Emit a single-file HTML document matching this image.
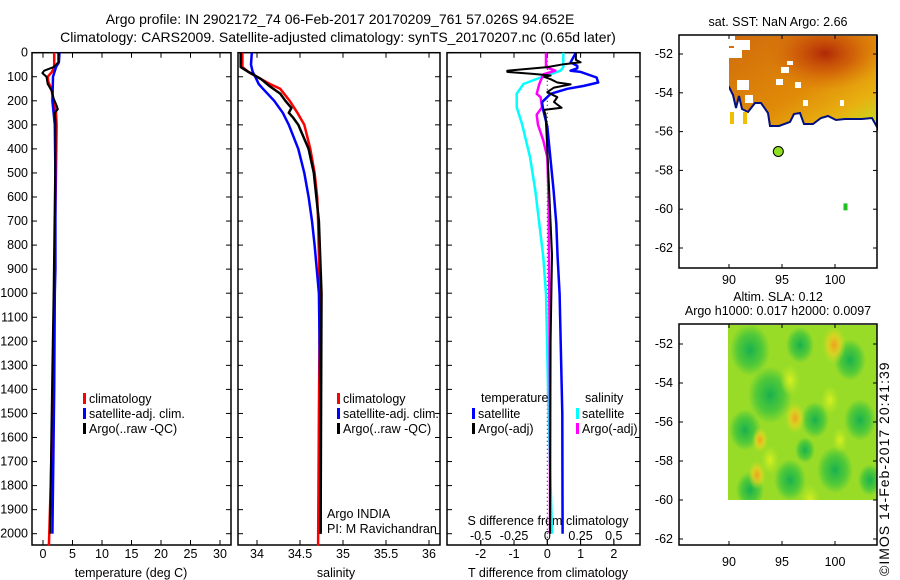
<!DOCTYPE html>
<html><head><meta charset="utf-8">
<style>
body{margin:0;background:#fff}
svg{display:block;font-family:"Liberation Sans",sans-serif;font-size:12.5px}
</style></head>
<body>
<svg id="s" width="900" height="580" viewBox="0 0 900 580" xmlns="http://www.w3.org/2000/svg">
<defs>
<radialGradient id="sstRed" cx="0.65" cy="0.2" r="0.4"><stop offset="0" stop-color="#b02808"/><stop offset="0.5" stop-color="#c84a08" stop-opacity="0.6"/><stop offset="1" stop-color="#d8700c" stop-opacity="0"/></radialGradient>
<linearGradient id="sstBase" x1="0" y1="0" x2="1" y2="1"><stop offset="0" stop-color="#d06a0c"/><stop offset="0.55" stop-color="#e08a08"/><stop offset="0.8" stop-color="#e8b010"/><stop offset="1" stop-color="#c0e020"/></linearGradient>
<radialGradient id="yb" r="0.5"><stop offset="0" stop-color="#d8f020"/><stop offset="1" stop-color="#c0e820" stop-opacity="0"/></radialGradient>
<radialGradient id="ob" r="0.5"><stop offset="0" stop-color="#f0a020"/><stop offset="0.5" stop-color="#f0d020" stop-opacity="0.7"/><stop offset="1" stop-color="#d0e020" stop-opacity="0"/></radialGradient>
<radialGradient id="gb" r="0.5"><stop offset="0" stop-color="#18b050"/><stop offset="0.6" stop-color="#30c040" stop-opacity="0.7"/><stop offset="1" stop-color="#30c040" stop-opacity="0"/></radialGradient>
<clipPath id="slaClip"><rect x="728" y="325" width="149" height="175"/></clipPath>
</defs>
<text x="340" y="24" text-anchor="middle" font-size="14">Argo profile: IN 2902172_74 06-Feb-2017 20170209_761 57.026S 94.652E</text>
<text x="338" y="42" text-anchor="middle" font-size="14">Climatology: CARS2009. Satellite-adjusted climatology: synTS_20170207.nc (0.65d later)</text>
<g id="g"></g>
</svg>
<script>
// ---- data ----
const depthTicks=[0,100,200,300,400,500,600,700,800,900,1000,1100,1200,1300,1400,1500,1600,1700,1800,1900,2000];
const tempTicks=[0,5,10,15,20,25,30];
const salTicks=[34,34.5,35,35.5,36];
const salTickLabels=["34","34.5","35","35.5","36"];
const tdTicks=[-2,-1,0,1,2];
const sdTicks=[-0.5,-0.25,0,0.25,0.5];
const sdTickLabels=["-0.5","-0.25","0","0.25","0.5"];
const latTicks=[-52,-54,-56,-58,-60,-62];
const lonTicks=[90,95,100];

const tClimD=[0,60,80,100,120,150,200,250,300,500,800,1000,1500,1800,2050];
const tClimV=[1.9,1.9,1.5,0.8,0.9,1.4,1.8,2.2,2.3,2.2,2.0,1.9,1.6,1.3,1.0];
const tArgoD=[0,40,60,75,85,100,130,160,190,220,235,250,280,400,800,1000,1300,1600,2000];
const tArgoV=[2.6,2.6,1.8,0.2,-0.1,0.6,0.8,1.5,1.8,2.3,2.5,2.0,2.1,2.1,1.9,1.8,1.6,1.4,1.2];
const tSatD=[0,40,60,100,200,300,500,900,1000,1400,1600,2000];
const tSatV=[2.8,2.7,2.2,1.7,1.6,2.0,2.1,2.1,2.0,1.9,1.8,1.6];

const sClimD=[0,60,80,100,130,150,200,250,300,400,500,600,700,1000,1500,2050];
const sClimV=[33.83,33.83,33.9,34.0,34.15,34.27,34.38,34.47,34.55,34.62,34.67,34.70,34.71,34.73,34.72,34.71];
const sArgoD=[0,60,80,110,140,170,200,230,250,270,300,400,500,700,1000,2000];
const sArgoV=[33.81,33.81,33.9,34.05,34.15,34.27,34.33,34.4,34.37,34.42,34.48,34.6,34.66,34.72,34.75,34.74];
const sSatD=[0,50,80,100,130,150,200,250,300,400,500,600,700,800,1000,1500,2000];
const sSatV=[33.94,33.93,33.95,33.98,34.02,34.07,34.2,34.3,34.37,34.48,34.55,34.6,34.64,34.67,34.72,34.74,34.74];

const tdSatD=[0,40,55,65,75,80,103,124,138,150,171,206,240,307,434,573,711,850,1003,1500,2000];
const tdSatV=[0.86,0.7,0.9,0.9,0.7,1.0,1.48,1.53,1.1,0.6,0.1,-0.16,-0.12,0,0.09,0.19,0.27,0.31,0.37,0.45,0.46];
const tdArgoD=[0,30,40,48,60,75,80,88,95,100,110,124,132,145,164,185,205,229,238,260,400,840,1200,2000];
const tdArgoV=[0.86,0.86,1.0,0.5,0.0,-1.2,-1.2,-0.43,0.1,-0.1,0.1,0.3,0.7,0.2,0.0,0.3,0.2,0.43,-0.1,-0.05,0.0,0.14,0.1,0.08];
const sdSatD=[0,60,75,103,130,171,227,296,365,434,573,711,850,1003,1500,2000];
const sdSatV=[0.12,0.12,0.1,-0.05,-0.18,-0.23,-0.23,-0.19,-0.16,-0.13,-0.09,-0.06,-0.03,-0.01,0.01,0.035];
const sdArgoD=[0,60,75,90,130,171,185,227,258,300,365,434,600,1000,1500,2000];
const sdArgoV=[-0.01,-0.01,0.06,-0.03,-0.06,-0.08,-0.05,-0.04,-0.08,-0.07,-0.03,0.0,0.01,0.015,0.02,0.02];

const argoLon=[94.652], argoLat=[-57.026];

// ---- helpers ----
const NS="http://www.w3.org/2000/svg";
const G=document.getElementById('g');
function mk(tag,attrs,parent){const e=document.createElementNS(NS,tag);for(const k in attrs)e.setAttribute(k,attrs[k]);(parent||G).appendChild(e);return e;}
function txt(x,y,s,anchor,parent){const e=mk('text',{x:x,y:y,'text-anchor':anchor||'middle'},parent);e.textContent=s;return e;}

const TOP=52.7, BOT=545, DPX=0.2405;
const yD=d=>TOP+d*DPX;
const P1={l:32,r:231}, P2={l:238,r:440}, P3={l:447,r:640};
const xT=v=>43+v*5.9;
const xS=v=>257+(v-34)*86;
const xTD=v=>547.3+v*33.3;
const xSD=v=>547.3+v*133;

function panel(p,name){
  const r=mk('rect',{x:p.l,y:TOP,width:p.r-p.l,height:BOT-TOP,fill:'none',stroke:'#000','stroke-width':1.5});
  
  
  depthTicks.forEach(d=>{mk('line',{x1:p.l,x2:p.l+5,y1:yD(d),y2:yD(d),stroke:'#000'});mk('line',{x1:p.r-5,x2:p.r,y1:yD(d),y2:yD(d),stroke:'#000'});});
}
function xticks(vals,fx,labels,name){
  const g=mk('g',{});
  
  
  vals.forEach((v,i)=>{const x=fx(v);mk('line',{x1:x,x2:x,y1:BOT,y2:BOT-5,stroke:'#000'},g);mk('line',{x1:x,x2:x,y1:TOP,y2:TOP+5,stroke:'#000'},g);txt(x,558,labels[i],'middle',g);});
}
function line(D,V,fx,color,w,name){
  const pts=D.map((d,i)=>fx(V[i]).toFixed(1)+','+yD(d).toFixed(1)).join(' ');
  const e=mk('polyline',{points:pts,fill:'none',stroke:color,'stroke-width':w,'stroke-linejoin':'round'});
  
  
}
function legend(x,y,color,label,name){
  const g=mk('g',{});
  
  
  mk('rect',{x:x,y:y-10,width:3,height:11,fill:color},g);
  txt(x+6,y,label,'start',g);
}

const dl=mk('g',{});


depthTicks.forEach(d=>txt(28,yD(d)+4,String(d),'end',dl));

// Panel 1
panel(P1,'temperature-panel');
xticks(tempTicks,xT,tempTicks.map(String),'temperature-x-axis');
const t1=txt(131,577,'temperature (deg C)');

line(tClimD,tClimV,xT,'#f00',2.5,'temp-climatology-line');
line(tSatD,tSatV,xT,'#00f',2.5,'temp-satellite-line');
line(tArgoD,tArgoV,xT,'#000',2,'temp-argo-line');
legend(83,403,'#f00','climatology','legend-climatology-1');
legend(83,418,'#00f','satellite-adj. clim.','legend-satellite-1');
legend(83,433,'#000','Argo(..raw -QC)','legend-argo-1');

// Panel 2
panel(P2,'salinity-panel');
xticks(salTicks,xS,salTickLabels,'salinity-x-axis');
const t2=txt(336,577,'salinity');

line(sClimD,sClimV,xS,'#f00',2.5,'sal-climatology-line');
line(sSatD,sSatV,xS,'#00f',2.5,'sal-satellite-line');
line(sArgoD,sArgoV,xS,'#000',2.5,'sal-argo-line');
legend(337,403,'#f00','climatology','legend-climatology-2');
legend(337,418,'#00f','satellite-adj. clim.','legend-satellite-2');
legend(337,433,'#000','Argo(..raw -QC)','legend-argo-2');
const ai=txt(327,518,'Argo INDIA','start');

const pi=txt(327,533,'PI: M Ravichandran','start');


// Panel 3
panel(P3,'difference-panel');
xticks(tdTicks,xTD,tdTicks.map(String),'t-difference-x-axis');
const sg=mk('g',{});


sdTicks.forEach((v,i)=>{const x=xSD(v);mk('line',{x1:x,x2:x,y1:BOT,y2:BOT-5,stroke:'#000'},sg);txt(x,540,sdTickLabels[i],'middle',sg);});
txt(548,525,'S difference from climatology','middle',sg);
mk('line',{x1:xTD(0),x2:xTD(0),y1:TOP,y2:BOT,stroke:'#000','stroke-dasharray':'1,3'});
const t3=txt(548,577,'T difference from climatology');

line(sdSatD,sdSatV,xSD,'#0ff',2.5,'sdiff-satellite-line');
line(sdArgoD,sdArgoV,xSD,'#f0f',2.5,'sdiff-argo-line');
line(tdSatD,tdSatV,xTD,'#00f',2.5,'tdiff-satellite-line');
line(tdArgoD,tdArgoV,xTD,'#000',2,'tdiff-argo-line');
const lt=txt(481,402,'temperature','start');

const ls=txt(585,402,'salinity','start');

legend(472,418,'#00f','satellite','legend-t-satellite');
legend(472,433,'#000','Argo(-adj)','legend-t-argo');
legend(576,418,'#0ff','satellite','legend-s-satellite');
legend(576,433,'#f0f','Argo(-adj)','legend-s-argo');

// Maps
const M={l:679,r:877};
const xL=lon=>729+(lon-90)*10.6;
function mapAxes(top,bot,yLat,name,xlabY){
  const g=mk('g',{});
  
  
  mk('rect',{x:M.l,y:top,width:M.r-M.l,height:bot-top,fill:'none',stroke:'#000','stroke-width':1.5},g);
  latTicks.forEach(l=>{const y=yLat(l);mk('line',{x1:M.l,x2:M.l+4,y1:y,y2:y,stroke:'#000'},g);mk('line',{x1:M.r-4,x2:M.r,y1:y,y2:y,stroke:'#000'},g);txt(673,y+4,String(l),'end',g);});
  lonTicks.forEach(l=>{const x=xL(l);mk('line',{x1:x,x2:x,y1:bot,y2:bot-4,stroke:'#000'},g);mk('line',{x1:x,x2:x,y1:top,y2:top+4,stroke:'#000'},g);txt(x,xlabY,String(l),'middle',g);});
}
const yM1=lat=>54+(-52-lat)*19.4;
const yM2=lat=>344+(-52-lat)*19.5;

// SST map
const sst=mk('g',{});


const sstPoly="728,35 877,35 877,127 872,118 862,119 845,119 836,120 828,116 821,118 813,124 804,124 800,113 794,114 790,122 779,126 770,126 768,113 761,103 755,103 748,112 742,109 739,96 736,108 733,95 729,87 728,87";
mk('polygon',{points:sstPoly,fill:'url(#sstBase)',stroke:'#001080','stroke-width':2},sst);
mk('polygon',{points:sstPoly,fill:'url(#sstRed)'},sst);
mk('rect',{x:727,y:34,width:152,height:2,fill:'#fff'},sst);
mk('rect',{x:727,y:34,width:2,height:55,fill:'#fff'},sst);
[[728,36,7,10],[734,40,16,10],[728,48,14,10],[737,80,12,10],[745,95,8,8],[776,79,7,6],[787,61,6,4],[781,67,8,6],[795,82,6,6],[803,100,5,6],[840,100,4,6]].forEach(h=>mk('rect',{x:h[0],y:h[1],width:h[2],height:h[3],fill:'#fff'},sst));
mk('rect',{x:730,y:112,width:4,height:12,fill:'#f0c000'},sst);
mk('rect',{x:743,y:112,width:4,height:12,fill:'#f0c000'},sst);
mapAxes(35,268,yM1,'sst-map-axes',284);
const sttl=txt(778,26,'sat. SST: NaN Argo: 2.66');

argoLon.forEach((lo,i)=>{
  const c=mk('circle',{cx:xL(lo),cy:yM1(argoLat[i]),r:5,fill:'#90e020',stroke:'#000','stroke-width':1});
  
  
});
mk('rect',{x:xL(100.8),y:yM1(-59.7),width:4,height:7,fill:'#20c020'});

// SLA map
const sla=mk('g',{'clip-path':'url(#slaClip)'});


mk('rect',{x:728,y:325,width:149,height:175,fill:'#98dc28'},sla);
[[750,350,20],[770,395,22],[745,430,16],[800,345,14],[815,420,14],[850,360,16],[860,420,16],[835,470,18],[790,480,16],[750,490,14],[870,480,12],[805,450,10]].forEach(b=>mk('ellipse',{cx:b[0],cy:b[1],rx:b[2],ry:b[2]*1.3,fill:'url(#gb)'},sla));
[[790,380,10],[830,400,9],[770,460,9],[840,440,8],[810,500,10]].forEach(b=>mk('ellipse',{cx:b[0],cy:b[1],rx:b[2],ry:b[2]*1.6,fill:'url(#yb)'},sla));
[[834,345,12],[795,418,10],[760,440,8],[757,475,9]].forEach(b=>mk('ellipse',{cx:b[0],cy:b[1],rx:b[2],ry:b[2]*1.6,fill:'url(#ob)'},sla));
mapAxes(324,545,yM2,'sla-map-axes',566);
const a1=txt(778,301,'Altim. SLA: 0.12');

const a2=txt(778,315,'Argo h1000: 0.017 h2000: 0.0097');

const cr=mk('text',{x:0,y:0,transform:'translate(889,576) rotate(-90)','text-anchor':'start','font-size':'14','letter-spacing':'1'});
cr.textContent='©IMOS 14-Feb-2017 20:41:39';


</script>
</body></html>
